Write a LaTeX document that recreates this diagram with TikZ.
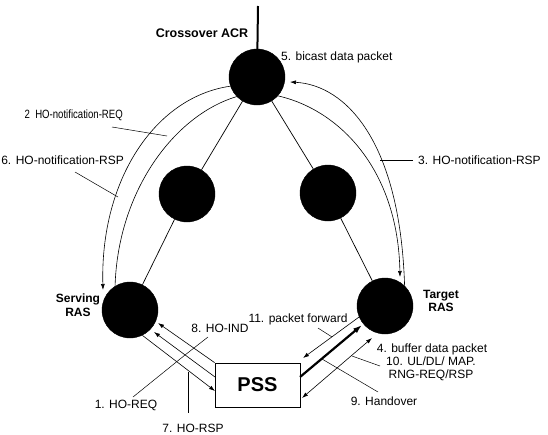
\documentclass[tikz,border=0pt]{standalone}
\usepackage{fontspec}
\setmainfont{Liberation Sans}
\usetikzlibrary{arrows.meta,calc}
\begin{document}
\begin{tikzpicture}[x=1pt,y=-1pt,
  dot/.style={circle,fill=black,draw=black,minimum size=56pt,inner sep=0pt},
  lbl/.style={font=\fontsize{12}{13}\selectfont,inner sep=0pt},
  blbl/.style={font=\bfseries\fontsize{12}{13.5}\selectfont,inner sep=0pt,align=center},
  wire/.style={line width=0.7pt},
  msg/.style={line width=0.6pt},
  tip/.style={-{Latex[length=6pt,width=4pt]}},
  dtip/.style={{Latex[length=6pt,width=4pt]}-{Latex[length=6pt,width=4pt]}},
  lead/.style={line width=0.5pt}]
\useasboundingbox (0,0) rectangle (548,434);

% routers
\node[dot] (acr) at (257,77) {};
\node[dot] (ml) at (187,194) {};
\node[dot] (mr) at (328,193) {};
\node[dot] (srv) at (130,310) {};
\node[dot] (tgt) at (385,306) {};
\node[draw,line width=0.8pt,minimum width=85pt,minimum height=44pt,inner sep=0pt,
      font=\bfseries\fontsize{20}{22}\selectfont] (pss) at (257.5,385) {PSS};

% uplink
\coordinate (up) at (258,6);
\draw[line width=2pt] (up) -- (acr);

% tree links
\draw[wire] (acr) -- (ml);
\draw[wire] (ml) -- (srv);
\draw[wire] (acr) -- (mr);
\draw[wire] (mr) -- (tgt);

% labels
\node[blbl,font=\bfseries\fontsize{12.5}{13.5}\selectfont] (title) at (202,33) {Crossover ACR};
\node[lbl,anchor=west] (bicast) at (281,57) {5. bicast data packet};
\node[lbl,anchor=east] (l2) at (123,115) {\scalebox{0.8}[1]{2\ \ HO-notification-REQ}};
\node[lbl,anchor=east] (l6) at (124,160) {6. HO-notification-RSP};
\node[lbl,anchor=west] (l3) at (418,160) {3. HO-notification-RSP};
\node[blbl] (srvl) at (78,305) {Serving\\RAS};
\node[blbl] (tgtl) at (441,301) {Target\\RAS};
\node[lbl] (l11) at (298,319) {11. packet forward};
\node[lbl] (l8) at (220,328) {8. HO-IND};
\node[lbl] (l4) at (432,349) {4. buffer data packet};
\node[lbl,align=center] (l10) at (431,369) {10. UL/DL/ MAP.\\RNG-REQ/RSP};
\node[lbl] (l9) at (384,401) {9. Handover};
\node[lbl] (l1) at (126,405) {1. HO-REQ};
\node[lbl] (l7) at (193,428) {7. HO-RSP};

% notification curves
\coordinate (lotip) at (103,290);
\draw[msg,tip] (acr.199) .. controls (155,97) and (100,180) .. (lotip);
\draw[msg] (acr.224) .. controls (175,115) and (118,190) .. (srv.122);
\coordinate (rotip) at (290,82);
\draw[msg,tip] (tgt.46) .. controls (400,140) and (345,85) .. (rotip);
\coordinate (ritip) at (400,277);
\draw[msg,tip] (acr.318) .. controls (340,110) and (398,170) .. (ritip);

% serving <-> PSS
\coordinate (s1) at (158,323);
\coordinate (s2) at (154,332);
\coordinate (p2) at (215,377);
\coordinate (p3) at (215,391);
\draw[msg,tip] (pss.north west) -- (s1);
\draw[msg,tip] (p2) -- (s2);
\draw[msg,tip] (srv.296) -- (p3);

% target <-> PSS
\coordinate (pa) at (303,358);
\coordinate (pb) at (300,377);
\coordinate (tb) at (362,325);
\coordinate (pc) at (302,398);
\coordinate (tc) at (372,338);
\draw[msg,tip] (tgt.203) -- (pa);
\draw[line width=2.2pt,-{Latex[length=9pt,width=6pt]}] (pb) -- (tb);
\draw[msg,dtip] (pc) -- (tc);

% leader lines
\coordinate (x2a) at (112,127); \coordinate (x2b) at (167,136);
\draw[lead] (x2a) -- (x2b);
\coordinate (x6a) at (75,172); \coordinate (x6b) at (118,197);
\draw[lead] (x6a) -- (x6b);
\coordinate (x3a) at (380,160); \coordinate (x3b) at (413,160);
\draw[lead] (x3a) -- (x3b);
\coordinate (x1a) at (133,397); \coordinate (x18) at (185,355); \coordinate (x8a) at (208,337);
\draw[lead] (x1a) -- (x18);
\draw[lead] (x8a) -- (x18);
\coordinate (x7a) at (188,372); \coordinate (x7b) at (188,413);
\draw[lead] (x7a) -- (x7b);
\coordinate (x11a) at (318,328); \coordinate (x11b) at (332,337);
\draw[lead] (x11a) -- (x11b);
\coordinate (x9a) at (322,359); \coordinate (x9b) at (378,392);
\draw[lead] (x9a) -- (x9b);
\coordinate (x10a) at (352,356); \coordinate (x10b) at (380,366);
\draw[lead] (x10a) -- (x10b);
\end{tikzpicture}
\end{document}
